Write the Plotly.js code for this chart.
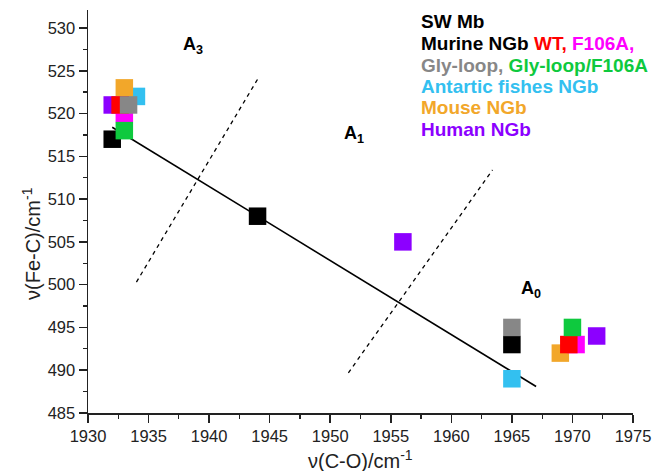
<!DOCTYPE html>
<html>
<head>
<meta charset="utf-8">
<script src="https://cdn.plot.ly/plotly-3.0.1.min.js"></script>
<style>html,body{margin:0;padding:0;background:#fff;}#chart{width:654px;height:471px;}</style>
</head>
<body>
<div id="chart"></div>
<script>
// Series data: v(C-O) in cm-1 (x) and v(Fe-C) in cm-1 (y)
const swMbX = [1932, 1944, 1965];
const swMbY = [517, 508, 493];
const wtX = [1932.65, 1969.7];
const wtY = [521, 493];
const f106aX = [1933, 1970.3];
const f106aY = [520, 493];
const glyX = [1933.35, 1965];
const glyY = [521, 495];
const glyF106aX = [1933, 1970];
const glyF106aY = [518, 495];
const fishX = [1934, 1965];
const fishY = [522, 489];
const mouseX = [1933, 1969];
const mouseY = [523, 492];
const humanX = [1932, 1956, 1972];
const humanY = [521, 505, 494];

// Correlation line and dashed boundaries
const fitX = [1932, 1967];
const fitY = [518.4, 488.1];
const dash1X = [1934, 1944];
const dash1Y = [500.3, 524];
const dash2X = [1951.5, 1963.4];
const dash2Y = [489.7, 513.4];

// Region labels
const regionX = [1938.7, 1952, 1966.6];
const regionY = [527.9, 517.5, 499.4];
const regionText = ['A<sub>3</sub>', 'A<sub>1</sub>', 'A<sub>0</sub>'];

const xTicks = [1930, 1935, 1940, 1945, 1950, 1955, 1960, 1965, 1970, 1975];
const yTicks = [485, 490, 495, 500, 505, 510, 515, 520, 525, 530];

const C = {
  black: '#000000', red: '#FF0000', magenta: '#FF00FF', gray: '#878787',
  green: '#0EC93E', blue: '#33C0F0', orange: '#F2A72A', purple: '#8C00FF'
};

function sq(x, y, color, name) {
  return {x: x, y: y, type: 'scatter', mode: 'markers', name: name,
    marker: {symbol: 'square', size: 17.5, color: color, line: {width: 0}},
    hoverinfo: 'x+y'};
}

const traces = [
  {x: fitX, y: fitY, type: 'scatter', mode: 'lines', line: {color: '#000', width: 1.6}, hoverinfo: 'skip'},
  {x: dash1X, y: dash1Y, type: 'scatter', mode: 'lines', line: {color: '#000', width: 1.3, dash: '4px,4px'}, hoverinfo: 'skip'},
  {x: dash2X, y: dash2Y, type: 'scatter', mode: 'lines', line: {color: '#000', width: 1.3, dash: '4px,4px'}, hoverinfo: 'skip'},
  sq(swMbX, swMbY, C.black, 'SW Mb'),
  sq(humanX, humanY, C.purple, 'Human NGb'),
  sq(fishX, fishY, C.blue, 'Antartic fishes NGb'),
  sq(mouseX, mouseY, C.orange, 'Mouse NGb'),
  sq(f106aX, f106aY, C.magenta, 'F106A'),
  sq(wtX, wtY, C.red, 'WT'),
  sq(glyX, glyY, C.gray, 'Gly-loop'),
  sq(glyF106aX, glyF106aY, C.green, 'Gly-loop/F106A')
];

const font = 'Arial, "Liberation Sans", sans-serif';
const annotations = regionText.map((t, i) => ({
  x: regionX[i], y: regionY[i], xref: 'x', yref: 'y', text: '<b>' + t + '</b>',
  showarrow: false, font: {family: font, size: 18, color: '#000'}
}));

const legendLines = [
  '<span style="color:#000">SW Mb</span>',
  '<span style="color:#000">Murine NGb </span><span style="color:' + C.red + '">WT, </span><span style="color:' + C.magenta + '">F106A,</span>',
  '<span style="color:' + C.gray + '">Gly-loop, </span><span style="color:' + C.green + '">Gly-loop/F106A</span>',
  '<span style="color:' + C.blue + '">Antartic fishes NGb</span>',
  '<span style="color:' + C.orange + '">Mouse NGb</span>',
  '<span style="color:' + C.purple + '">Human NGb</span>'
];
const W = 654, H = 471, L = 88, R = 21, T = 10, B = 58;
const pw = W - L - R, ph = H - T - B;
legendLines.forEach((t, i) => {
  annotations.push({
    xref: 'paper', yref: 'paper', x: (419 - L) / pw, y: 1 - (22 + i * 21.5 - T) / ph,
    xanchor: 'left', yanchor: 'middle', text: '<b>' + t + '</b>', showarrow: false,
    font: {family: font, size: 19}
  });
});
// Axis titles
annotations.push({
  xref: 'paper', yref: 'paper', x: (360 - L) / pw, y: 1 - (459 - T) / ph,
  xanchor: 'center', yanchor: 'middle', text: 'ν(C-O)/cm<sup>-1</sup>', showarrow: false,
  font: {family: font, size: 20, color: '#222'}
});
annotations.push({
  xref: 'paper', yref: 'paper', x: (31 - L) / pw, y: 1 - (244 - T) / ph,
  xanchor: 'center', yanchor: 'middle', textangle: -90, text: 'ν(Fe-C)/cm<sup>-1</sup>', showarrow: false,
  font: {family: font, size: 20, color: '#222'}
});

const axisCommon = {
  showline: true, linecolor: '#222', linewidth: 1.5, zeroline: false, showgrid: false,
  ticks: 'outside', ticklen: 8, tickwidth: 1.5, tickcolor: '#222',
  tickfont: {family: font, size: 16.5, color: '#222'},
  minor: {ticks: 'outside', ticklen: 4, tickwidth: 1.3, tickcolor: '#222', dtick: 2.5, showgrid: false},
  mirror: false, automargin: false, fixedrange: true
};

const layout = {
  width: W, height: H,
  margin: {l: L, r: R, t: T, b: B},
  paper_bgcolor: '#fff', plot_bgcolor: '#fff',
  showlegend: false,
  xaxis: Object.assign({}, axisCommon, {
    range: [1930, 1975], tickmode: 'array', tickvals: xTicks, ticktext: xTicks.map(String)
  }),
  yaxis: Object.assign({}, axisCommon, {
    range: [485, 532.1], tickmode: 'array', tickvals: yTicks, ticktext: yTicks.map(String)
  }),
  annotations: annotations
};

Plotly.newPlot('chart', traces, layout, {displayModeBar: false, staticPlot: true});
</script>
</body>
</html>
